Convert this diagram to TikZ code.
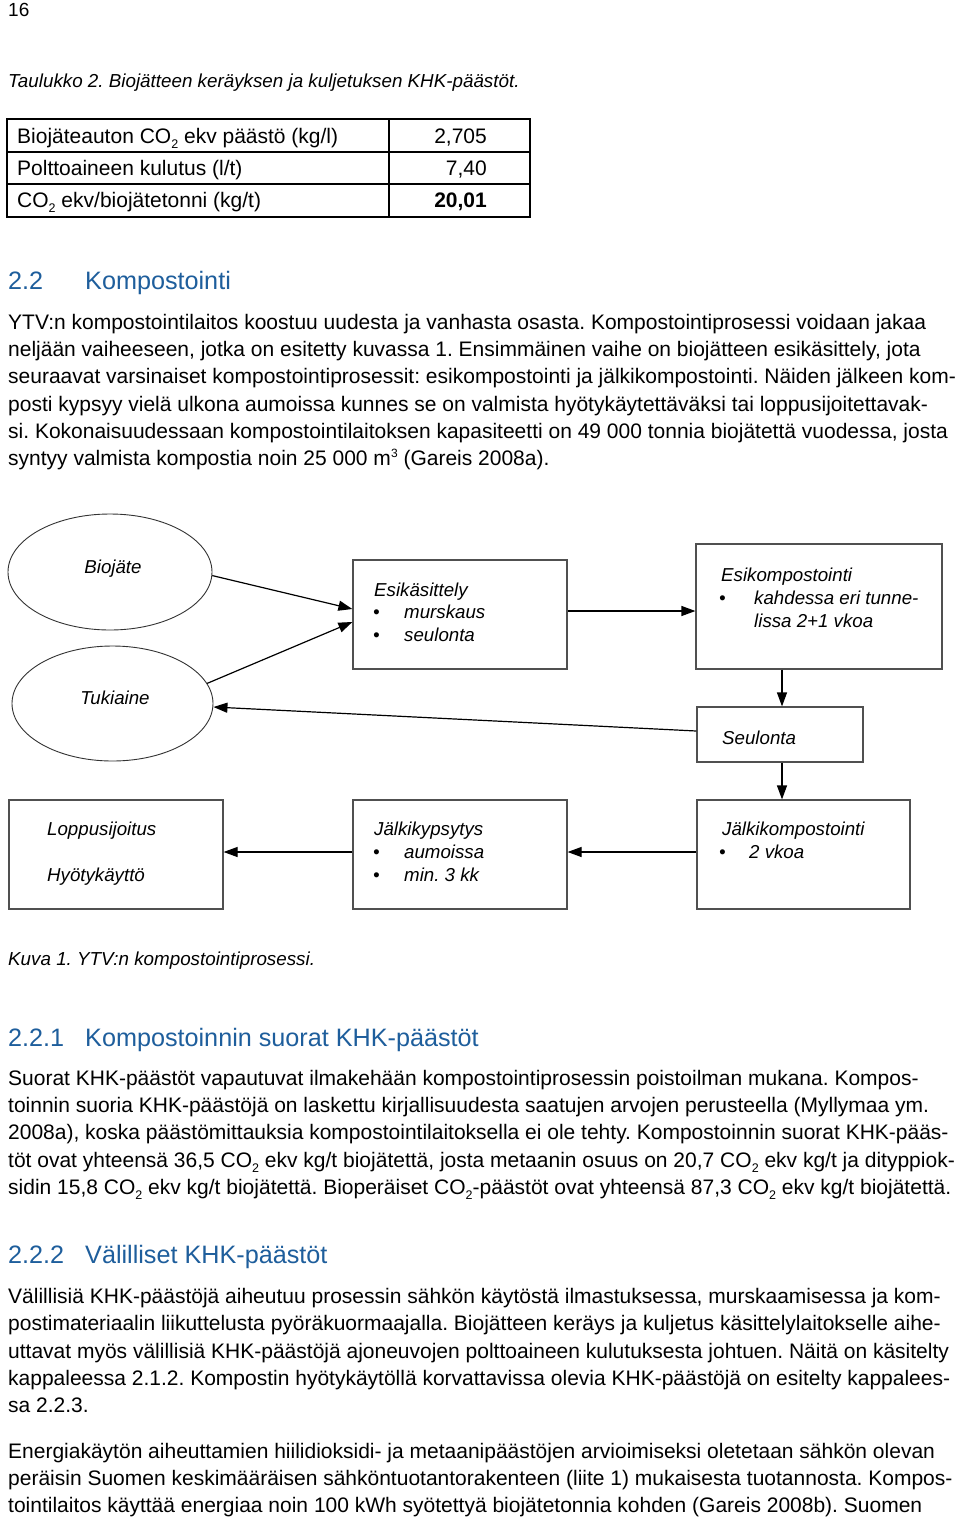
\documentclass[tikz,border=0pt]{standalone}
\usepackage{fontspec}
\setmainfont{Liberation Sans}
\usetikzlibrary{shapes.geometric,arrows.meta}
\definecolor{headblue}{RGB}{30,94,156}
\definecolor{boxgray}{RGB}{80,80,80}
\newcommand\subtwo{\raisebox{-5pt}{\fontsize{12.5}{12.5}\selectfont 2}}
\newcommand\supthree{\raisebox{8pt}{\fontsize{12}{12}\selectfont 3}}
\frenchspacing
\begin{document}
\frenchspacing
\begin{tikzpicture}[x=1pt,y=-1pt,
 txt/.style={inner sep=0pt,anchor=base west,font=\fontsize{21}{25}\selectfont},
 head/.style={inner sep=0pt,anchor=base west,font=\fontsize{25.2}{30}\selectfont,text=headblue},
 capt/.style={inner sep=0pt,anchor=base west,font=\fontsize{18.8}{22}\selectfont\itshape},
 dtxt/.style={inner sep=0pt,anchor=base west,font=\fontsize{18.7}{22}\selectfont\itshape},
 box/.style={draw=boxgray,line width=1.2pt,rectangle,inner sep=0pt},
 oval/.style={draw=black!80,line width=0.9pt,ellipse,inner sep=0pt},
 arr/.style={line width=1.2pt,-{Triangle[length=14pt,width=10pt]}},
 tbl/.style={line width=1.6pt}
]
\useasboundingbox[fill=white] (0,0) rectangle (960,1518);

% page number and table caption
\node[txt,font=\fontsize{19}{22}\selectfont] (pnum) at (8,16) {16};
\node[capt] (tcap) at (8,87) {Taulukko 2. Biojätteen keräyksen ja kuljetuksen KHK-päästöt.};

% table
\draw[tbl] (7,119) rectangle (530,217);
\draw[tbl] (7,152) -- (530,152);
\draw[tbl] (7,184) -- (530,184);
\draw[tbl] (389,119) -- (389,217);
\node[txt] (r1a) at (17,143) {Biojäteauton CO\subtwo{} ekv päästö (kg/l)};
\node[txt] (r2a) at (17,175) {Polttoaineen kulutus (l/t)};
\node[txt] (r3a) at (17,207) {CO\subtwo{} ekv/biojätetonni (kg/t)};
\node[txt,anchor=base east] (r1b) at (487,143) {2,705};
\node[txt,anchor=base east] (r2b) at (487,175) {7,40};
\node[txt,anchor=base east,font=\fontsize{21}{25}\selectfont\bfseries] (r3b) at (487,207) {20,01};

% heading 2.2
\node[head] (h22n) at (8,289) {2.2};
\node[head] (h22t) at (85,289) {Kompostointi};

\node[txt] (p1) at (8,329.5) {YTV:n kompostointilaitos koostuu uudesta ja vanhasta osasta. Kompostointiprosessi voidaan jakaa};
\node[txt] (p2) at (8,356.5) {neljään vaiheeseen, jotka on esitetty kuvassa 1. Ensimmäinen vaihe on biojätteen esikäsittely, jota};
\node[txt] (p3) at (8,383.5) {seuraavat varsinaiset kompostointiprosessit: esikompostointi ja jälkikompostointi. Näiden jälkeen kom-};
\node[txt] (p4) at (8,411) {posti kypsyy vielä ulkona aumoissa kunnes se on valmista hyötykäytettäväksi tai loppusijoitettavak-};
\node[txt] (p5) at (8,438.5) {si. Kokonaisuudessaan kompostointilaitoksen kapasiteetti on 49 000 tonnia biojätettä vuodessa, josta};
\node[txt] (p6) at (8,465.5) {syntyy valmista kompostia noin 25 000 m\supthree{} (Gareis 2008a).};

% diagram shapes
\node[oval,minimum width=204,minimum height=116] (bio) at (110,572) {};
\node[oval,minimum width=201,minimum height=115] (tuk) at (112.5,703.5) {};
\node[box,minimum width=214,minimum height=109] (esik) at (460,614.5) {};
\node[box,minimum width=246,minimum height=125] (ekomp) at (819,606.5) {};
\node[box,minimum width=166,minimum height=55] (seul) at (780,734.5) {};
\node[box,minimum width=213,minimum height=109] (jkomp) at (803.5,854.5) {};
\node[box,minimum width=214,minimum height=109] (jkyps) at (460,854.5) {};
\node[box,minimum width=214,minimum height=109] (lopp) at (116,854.5) {};

% diagram texts
\node[dtxt,anchor=base] (tbio) at (113,573) {Biojäte};
\node[dtxt,anchor=base] (ttuk) at (115,704) {Tukiaine};
\node[dtxt] (tesik) at (374,596) {Esikäsittely};
\node[dtxt] (besik1) at (373,618) {•};
\node[dtxt] (tesik1) at (404,618) {murskaus};
\node[dtxt] (besik2) at (373,641) {•};
\node[dtxt] (tesik2) at (404,641) {seulonta};
\node[dtxt] (tekomp) at (721,581) {Esikompostointi};
\node[dtxt] (bekomp) at (719,604) {•};
\node[dtxt] (tekomp1) at (754,604) {kahdessa eri tunne-};
\node[dtxt] (tekomp2) at (754,627) {lissa 2+1 vkoa};
\node[dtxt] (tseul) at (722,744) {Seulonta};
\node[dtxt] (tjkomp) at (722,835) {Jälkikompostointi};
\node[dtxt] (bjkomp) at (719,858) {•};
\node[dtxt] (tjkomp1) at (749,858) {2 vkoa};
\node[dtxt] (tjkyps) at (374,835) {Jälkikypsytys};
\node[dtxt] (bjkyps1) at (373,858) {•};
\node[dtxt] (tjkyps1) at (404,858) {aumoissa};
\node[dtxt] (bjkyps2) at (373,881) {•};
\node[dtxt] (tjkyps2) at (404,881) {min. 3 kk};
\node[dtxt] (tlopp1) at (47,835) {Loppusijoitus};
\node[dtxt] (tlopp2) at (47,881) {Hyötykäyttö};

% connectors
\draw[arr] (bio.-2) -- ([yshift=5.5pt]esik.west);
\draw[arr] (tuk.12) -- ([yshift=-7.5pt]esik.west);
\draw[arr] ([yshift=3.5pt]esik.east) -- ([yshift=3.5pt]esik.east -| ekomp.west);
\draw[arr] ([xshift=2pt]seul.north |- ekomp.south) -- ([xshift=2pt]seul.north);
\draw[arr] ([yshift=3.5pt]seul.west) -- ([yshift=-3.5pt]tuk.east);
\draw[arr] ([xshift=2pt]seul.south) -- ([xshift=2pt]seul.south |- jkomp.north);
\draw[arr] ([yshift=2.5pt]jkomp.west) -- ([yshift=2.5pt]jkomp.west -| jkyps.east);
\draw[arr] ([yshift=2.5pt]jkyps.west) -- ([yshift=2.5pt]jkyps.west -| lopp.east);

\node[capt] (kcap) at (8,965) {Kuva 1. YTV:n kompostointiprosessi.};

% heading 2.2.1
\node[head] (h221n) at (8,1046) {2.2.1};
\node[head] (h221t) at (85,1046) {Kompostoinnin suorat KHK-päästöt};
\node[txt] (q1) at (8,1085.5) {Suorat KHK-päästöt vapautuvat ilmakehään kompostointiprosessin poistoilman mukana. Kompos-};
\node[txt] (q2) at (8,1112.5) {toinnin suoria KHK-päästöjä on laskettu kirjallisuudesta saatujen arvojen perusteella (Myllymaa ym.};
\node[txt] (q3) at (8,1139.5) {2008a), koska päästömittauksia kompostointilaitoksella ei ole tehty. Kompostoinnin suorat KHK-pääs-};
\node[txt] (q4) at (8,1167.5) {töt ovat yhteensä 36,5 CO\subtwo{} ekv kg/t biojätettä, josta metaanin osuus on 20,7 CO\subtwo{} ekv kg/t ja dityppiok-};
\node[txt] (q5) at (8,1194.5) {sidin 15,8 CO\subtwo{} ekv kg/t biojätettä. Bioperäiset CO\subtwo{}-päästöt ovat yhteensä 87,3 CO\subtwo{} ekv kg/t biojätettä.};

% heading 2.2.2
\node[head] (h222n) at (8,1263) {2.2.2};
\node[head] (h222t) at (85,1263) {Välilliset KHK-päästöt};
\node[txt] (s1) at (8,1303.5) {Välillisiä KHK-päästöjä aiheutuu prosessin sähkön käytöstä ilmastuksessa, murskaamisessa ja kom-};
\node[txt] (s2) at (8,1330.5) {postimateriaalin liikuttelusta pyöräkuormaajalla. Biojätteen keräys ja kuljetus käsittelylaitokselle aihe-};
\node[txt] (s3) at (8,1358.5) {uttavat myös välillisiä KHK-päästöjä ajoneuvojen polttoaineen kulutuksesta johtuen. Näitä on käsitelty};
\node[txt] (s4) at (8,1385.5) {kappaleessa 2.1.2. Kompostin hyötykäytöllä korvattavissa olevia KHK-päästöjä on esitelty kappalees-};
\node[txt] (s5) at (8,1412.5) {sa 2.2.3.};
\node[txt] (e1) at (8,1458.5) {Energiakäytön aiheuttamien hiilidioksidi- ja metaanipäästöjen arvioimiseksi oletetaan sähkön olevan};
\node[txt] (e2) at (8,1485.5) {peräisin Suomen keskimääräisen sähköntuotantorakenteen (liite 1) mukaisesta tuotannosta. Kompos-};
\node[txt] (e3) at (8,1512.5) {tointilaitos käyttää energiaa noin 100 kWh syötettyä biojätetonnia kohden (Gareis 2008b). Suomen};
\end{tikzpicture}
\end{document}
